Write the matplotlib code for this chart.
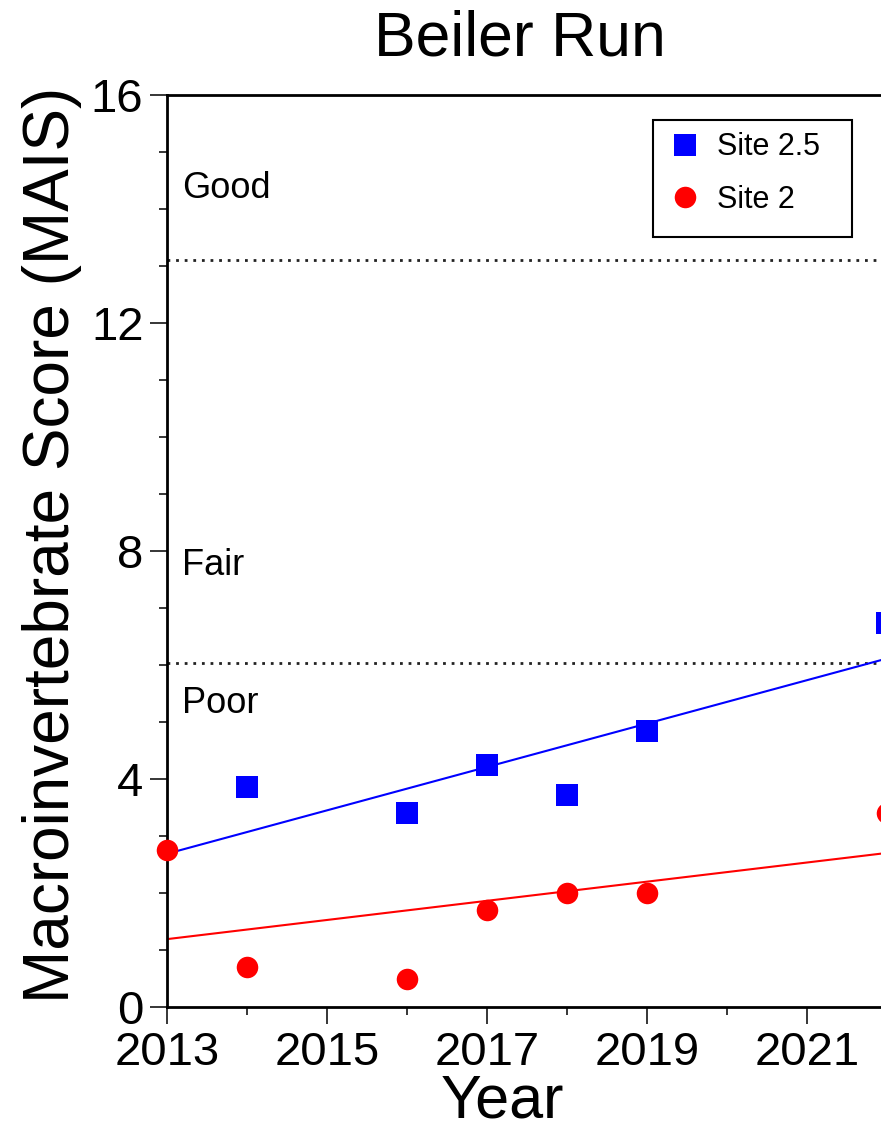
import numpy as np
import matplotlib
matplotlib.use("Agg")
import matplotlib.pyplot as plt
from matplotlib.ticker import MultipleLocator
from matplotlib.patches import Rectangle

plt.rcParams['font.family'] = ['Liberation Sans', 'DejaVu Sans']

# data
years_25 = [2014, 2016, 2017, 2018, 2019, 2022]
mais_25 = [3.86, 3.40, 4.24, 3.72, 4.84, 6.73]
years_2 = [2013, 2014, 2016, 2017, 2018, 2019, 2022]
mais_2 = [2.75, 0.70, 0.49, 1.70, 2.00, 2.00, 3.40]
thresholds = [13.1, 6.03]
classes = ["Good", "Fair", "Poor"]
class_y = [14.2, 7.58, 5.16]
year_ticks = [2013, 2015, 2017, 2019, 2021]

W, H = 881, 1131
fig = plt.figure(figsize=(W / 100, H / 100), dpi=100)

# axes run past the right edge of the picture (reference is cropped)
left, bottom, top = 167 / W, 1 - 1007 / H, 1 - 95 / H
ax = fig.add_axes([left, bottom, 10 * 80 / W, top - bottom])
ax.set_xlim(2013, 2023)
ax.set_ylim(0, 16)

# threshold lines
for t in thresholds:
    ax.axhline(t, color='#222222', lw=2, ls=(0, (1, 2.1)), zorder=1)

# least-squares trend lines
xx = np.array([2013, 2023])
p25 = np.polyfit(years_25, mais_25, 1)
p2 = np.polyfit(years_2, mais_2, 1)
ax.plot(xx, np.polyval(p25, xx), color='blue', lw=1.5, zorder=2)
ax.plot(xx, np.polyval(p2, xx), color='red', lw=1.5, zorder=2)

ax.plot(years_25, mais_25, 's', color='blue', ms=15.5, mew=0, ls='none',
        zorder=3, clip_on=False, label='Site 2.5')
ax.plot(years_2, mais_2, 'o', color='red', ms=15.5, mew=0, ls='none',
        zorder=3, clip_on=False, label='Site 2')

for name, y in zip(classes, class_y):
    ax.text(2013.19, y, name, fontsize=26, va='baseline', ha='left')

# ticks
ax.set_xticks(year_ticks)
ax.xaxis.set_minor_locator(MultipleLocator(1))
ax.yaxis.set_major_locator(MultipleLocator(4))
ax.yaxis.set_minor_locator(MultipleLocator(1))
ax.tick_params(which='both', direction='out', width=1.1, labelsize=34)
ax.tick_params(which='major', length=12, pad=5)
ax.tick_params(which='minor', length=6)
for s in ax.spines.values():
    s.set_linewidth(2)

# legend
leg = ax.legend(loc='upper left', bbox_to_anchor=(653 / W, 1 - 120 / H),
                bbox_transform=fig.transFigure, frameon=False, fontsize=22,
                borderpad=0.4, handlelength=1.3, handletextpad=0.4,
                labelspacing=0.75, borderaxespad=0)
fig.add_artist(Rectangle((653 / W, 1 - 237 / H), 199 / W, 117 / H,
                         transform=fig.transFigure, fill=False,
                         edgecolor='black', lw=1.5))

fig.text(520 / W, 1 - 55 / H, "Beiler Run", fontsize=45, ha='center', va='baseline')
fig.text(52 / W, 1 - 545 / H, "Macroinvertebrate Score (MAIS)", fontsize=46,
         rotation=90, ha='center', va='center')
fig.text(502 / W, 1 - 1130 / H, "Year", fontsize=44, ha='center', va='bottom')

fig.savefig("out.png", dpi=100)
